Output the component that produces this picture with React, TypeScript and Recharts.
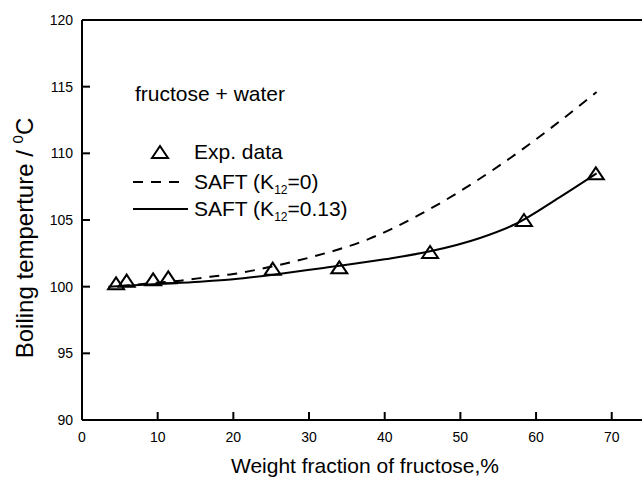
import { ComposedChart, Line, Scatter, XAxis, YAxis, ReferenceLine } from 'recharts';

// experimental boiling points (weight % fructose, °C)
const expX = [4.5, 5.9, 9.4, 11.4, 25.2, 34.0, 46.0, 58.4, 67.9];
const expT = [100.25, 100.45, 100.55, 100.7, 101.35, 101.45, 102.6, 105.0, 108.5];

// SAFT, K12 = 0 (dashed)
const saft0X = [5, 10, 13, 17, 20, 25, 30.5, 38, 44.6, 54.3, 62.2, 68];
const saft0T = [100.05, 100.3, 100.45, 100.75, 100.95, 101.5, 102.25, 103.6, 105.4, 108.75, 112.0, 114.6];

// SAFT, K12 = 0.13 (solid)
const saft13X = [3.5, 10, 15.6, 20, 26, 31.4, 40, 46, 52.6, 57.3, 63.1, 68];
const saft13T = [100.0, 100.2, 100.37, 100.55, 100.95, 101.37, 102.05, 102.65, 103.65, 104.7, 106.7, 108.5];

const xTicks = [0, 10, 20, 30, 40, 50, 60, 70];
const yTicks = [90, 95, 100, 105, 110, 115, 120];

const toPoints = (xs: number[], ys: number[]) => xs.map((x, i) => ({ x, y: ys[i] }));

const expData = toPoints(expX, expT);
const saft0Data = toPoints(saft0X, saft0T);
const saft13Data = toPoints(saft13X, saft13T);

const FONT = '"Liberation Sans", Arial, sans-serif';
const W = 642;
const H = 477;

const YTick = (props: any) => {
  const { x, y, payload } = props;
  const axisX = x + 9;
  return (
    <g>
      <line x1={axisX} x2={axisX + 8} y1={y} y2={y} stroke="#000" strokeWidth={2} />
      <text x={x} y={y} textAnchor="end" dominantBaseline="central" fontSize={14} fontFamily={FONT} fill="#000">
        {payload.value}
      </text>
    </g>
  );
};

const XTick = (props: any) => {
  const { x, y, payload } = props;
  const axisY = y - 10;
  return (
    <g>
      <line x1={x} x2={x} y1={axisY} y2={axisY - 8} stroke="#000" strokeWidth={2} />
      <text x={x} y={axisY + 17} textAnchor="middle" dominantBaseline="central" fontSize={14} fontFamily={FONT} fill="#000">
        {payload.value}
      </text>
    </g>
  );
};

const Triangle = (props: any) => {
  const { cx, cy } = props;
  return (
    <path
      d={`M${cx - 8},${cy + 6} L${cx},${cy - 6} L${cx + 8},${cy + 6} Z`}
      fill="none"
      stroke="#000"
      strokeWidth={2}
    />
  );
};

export default function App() {
  return (
    <div style={{ position: 'absolute', left: 0, top: 0, width: W, height: H, background: '#fff' }}>
      <ComposedChart width={W} height={H} margin={{ top: 20, right: 0, left: 0, bottom: 0 }}>
        <XAxis
          type="number"
          dataKey="x"
          domain={[0, 74]}
          ticks={xTicks}
          allowDataOverflow
          height={57}
          tickSize={0}
          tickMargin={10}
          tick={<XTick />}
          axisLine={{ stroke: '#000', strokeWidth: 2 }}
        />
        <YAxis
          type="number"
          dataKey="y"
          domain={[90, 120]}
          ticks={yTicks}
          allowDataOverflow
          width={82}
          tickSize={0}
          tickMargin={9}
          tick={<YTick />}
          axisLine={{ stroke: '#000', strokeWidth: 2 }}
        />
        <ReferenceLine y={120} stroke="#000" strokeWidth={2} />
        <Line
          data={saft0Data}
          dataKey="y"
          type="monotone"
          stroke="#000"
          strokeWidth={2}
          strokeDasharray="10 8"
          dot={false}
          activeDot={false}
          isAnimationActive={false}
        />
        <Line
          data={saft13Data}
          dataKey="y"
          type="monotone"
          stroke="#000"
          strokeWidth={2}
          dot={false}
          activeDot={false}
          isAnimationActive={false}
        />
        <Scatter data={expData} dataKey="y" shape={<Triangle />} isAnimationActive={false} />
      </ComposedChart>

      <svg
        width={W}
        height={H}
        style={{ position: 'absolute', left: 0, top: 0, pointerEvents: 'none' }}
        fontFamily={FONT}
      >
        <text x={135} y={101} fontSize={21} fill="#000">fructose + water</text>

        <path d="M152,158 L160,146 L168,158 Z" fill="none" stroke="#000" strokeWidth={2} />
        <text x={194} y={159} fontSize={21} fill="#000">Exp. data</text>

        <line x1={133} x2={181} y1={182} y2={182} stroke="#000" strokeWidth={2} strokeDasharray="10 8" />
        <text x={194} y={189} fontSize={21} fill="#000">
          SAFT (K<tspan fontSize={12} dy={5}>12</tspan><tspan dy={-5}>=0)</tspan>
        </text>

        <line x1={133} x2={188} y1={209} y2={209} stroke="#000" strokeWidth={2} />
        <text x={194} y={216} fontSize={21} fill="#000">
          SAFT (K<tspan fontSize={12} dy={5}>12</tspan><tspan dy={-5}>=0.13)</tspan>
        </text>

        <text x={365} y={473} fontSize={21} textAnchor="middle" fill="#000">
          Weight fraction of fructose,%
        </text>
        <text
          x={0}
          y={0}
          transform="translate(33,238) rotate(-90)"
          fontSize={24}
          textAnchor="middle"
          fill="#000"
        >
          Boiling temperture / <tspan fontSize={15} dy={-10}>0</tspan><tspan dy={10}>C</tspan>
        </text>
      </svg>
    </div>
  );
}
